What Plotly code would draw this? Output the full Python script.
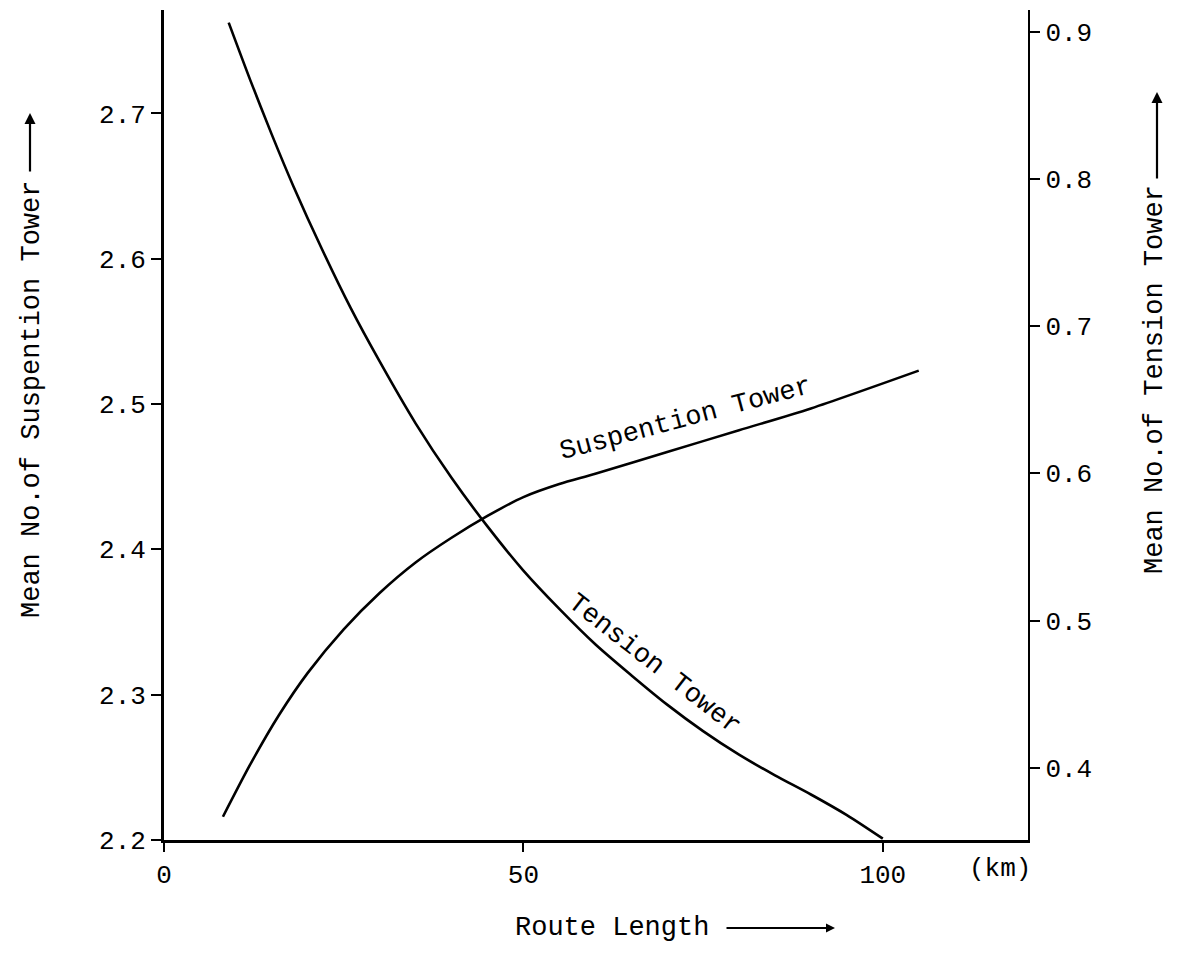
import plotly.graph_objects as go

# Route length (km) and mean number of suspension towers (left axis)
susp_km = [8.2, 12, 16, 20, 25, 30, 35, 40, 45, 50, 55, 60, 70, 80, 90, 105]
susp_val = [2.216, 2.252, 2.286, 2.315, 2.345, 2.370, 2.391, 2.408, 2.423, 2.436, 2.445, 2.452,
            2.467, 2.482, 2.497, 2.523]

# Route length (km) and mean number of tension towers (right axis)
tens_km = [9, 12, 15, 18, 22, 26, 30, 35, 40, 45, 50, 55, 60, 65, 70, 75, 80, 85, 90, 95, 100]
tens_val = [0.906, 0.867, 0.830, 0.795, 0.752, 0.712, 0.676, 0.634, 0.597, 0.564, 0.534, 0.508,
            0.484, 0.463, 0.443, 0.425, 0.409, 0.395, 0.382, 0.368, 0.352]

x_ticks = [0, 50, 100]
x_tick_text = ["0", "50", "100"]
left_ticks = [2.2, 2.3, 2.4, 2.5, 2.6, 2.7]
right_ticks = [0.4, 0.5, 0.6, 0.7, 0.8, 0.9]

FONT = "Liberation Mono, Courier New, monospace"
W, H = 1183, 961
L, R, T, B = 164, 155, 10, 121
PW, PH = W - L - R, H - T - B


def px(xp):
    return (xp - L) / PW


def py(yp):
    return (H - B - yp) / PH


fig = go.Figure()
fig.add_trace(go.Scatter(x=susp_km, y=susp_val, mode="lines", yaxis="y",
                         line=dict(color="black", width=2.6, shape="spline", smoothing=0.8),
                         showlegend=False, hoverinfo="skip"))
fig.add_trace(go.Scatter(x=tens_km, y=tens_val, mode="lines", yaxis="y2",
                         line=dict(color="black", width=2.6, shape="spline", smoothing=0.8),
                         showlegend=False, hoverinfo="skip"))

axis_common = dict(showgrid=False, zeroline=False, showline=True, linecolor="black",
                   ticks="outside", tickcolor="black", tickwidth=1.5,
                   tickfont=dict(family=FONT, size=26, color="black"))

fig.update_layout(
    width=W, height=H,
    margin=dict(l=L, r=R, t=T, b=B, pad=0),
    paper_bgcolor="white", plot_bgcolor="white",
    xaxis=dict(range=[0, 120.2], tickvals=x_ticks, ticktext=x_tick_text,
               ticklen=9, linewidth=2.5, **axis_common),
    yaxis=dict(range=[2.2, 2.7712], tickvals=left_ticks, ticktext=[f"{v:.1f}" for v in left_ticks],
               ticklen=10, linewidth=2.8, **axis_common),
    yaxis2=dict(range=[0.3511, 0.9146], overlaying="y", side="right",
                tickvals=right_ticks, ticktext=[f"{v:.1f}" for v in right_ticks],
                ticklen=10, linewidth=2.4, **axis_common),
)

ann_font = dict(family=FONT, size=27, color="black")
mid = dict(xanchor="center", yanchor="middle")

# curve labels
fig.add_annotation(x=72.6, y=2.490, xref="x", yref="y", text="Suspention Tower",
                   showarrow=False, textangle=-15, font=ann_font, **mid)
fig.add_annotation(x=68.3, y=0.470, xref="x", yref="y2", text="Tension Tower",
                   showarrow=False, textangle=38, font=ann_font, **mid)

# unit label on x axis
fig.add_annotation(x=px(1000), y=py(869), xref="paper", yref="paper", text="(km)",
                   showarrow=False, font=dict(family=FONT, size=26, color="black"), **mid)

# axis titles with arrows
fig.add_annotation(x=px(32), y=py(400), xref="paper", yref="paper",
                   text="Mean No.of Suspention Tower", textangle=-90,
                   showarrow=False, font=ann_font, **mid)
fig.add_annotation(x=px(30), y=py(113), xref="paper", yref="paper", text="",
                   showarrow=True, ax=0, ay=60, arrowhead=2, arrowsize=1, arrowwidth=2.2,
                   arrowcolor="black")

fig.add_annotation(x=px(1155), y=py(380), xref="paper", yref="paper",
                   text="Mean No.of Tension Tower", textangle=-90,
                   showarrow=False, font=ann_font, **mid)
fig.add_annotation(x=px(1157), y=py(92), xref="paper", yref="paper", text="",
                   showarrow=True, ax=0, ay=88, arrowhead=2, arrowsize=1, arrowwidth=2.2,
                   arrowcolor="black")

fig.add_annotation(x=px(612), y=py(928), xref="paper", yref="paper",
                   text="Route Length", showarrow=False, font=ann_font, **mid)
fig.add_annotation(x=px(835), y=py(928), xref="paper", yref="paper", text="",
                   showarrow=True, ax=-110, ay=0, arrowhead=2, arrowsize=1, arrowwidth=1.8,
                   arrowcolor="black")

fig.write_html("out.html")
